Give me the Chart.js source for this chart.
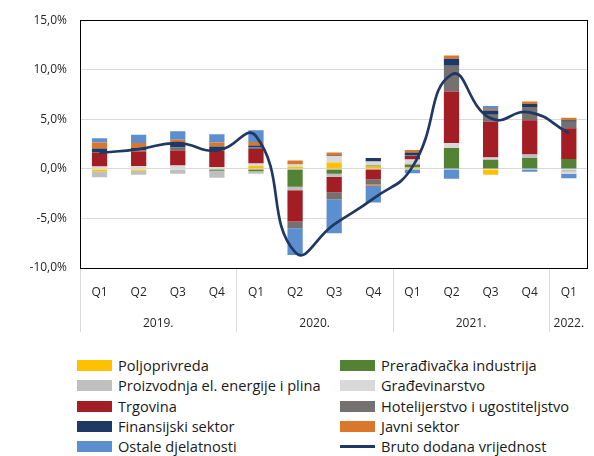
<!DOCTYPE html>
<html>
<head>
<meta charset="utf-8">
<script src="https://cdn.jsdelivr.net/npm/chart.js@4"></script>
<style>
  body { margin: 0; background: #fff; font-family: "Open Sans", sans-serif; }
  #wrap { position: relative; width: 594px; height: 456px; }
  #chartBox { position: absolute; left: 0; top: 0; width: 594px; height: 342px; }
  #legend { position: absolute; left: 0; top: 355px; width: 594px; font-size: 14.6px; color: #1a1a1a; }
  .item { position: absolute; height: 20px; line-height: 20px; white-space: nowrap; }
  .box { position: absolute; left: 0; top: 5px; width: 35px; height: 11px; }
  .ln { position: absolute; left: 0; top: 9px; width: 35px; height: 3px; }
  .txt { position: absolute; left: 41px; top: 0; }
</style>
</head>
<body>
<div id="wrap">
  <div id="chartBox"><canvas id="myChart"></canvas></div>
  <div id="legend"></div>
</div>
<script>
// kvartali i godine
var kvartali = ['Q1','Q2','Q3','Q4','Q1','Q2','Q3','Q4','Q1','Q2','Q3','Q4','Q1'];
var godine = ['2019.', '2020.', '2021.', '2022.'];
var godineBroj = [4, 4, 4, 1]; // koliko kvartala po godini

// doprinosi (postotni poeni)
var poljoprivreda = [-0.25, -0.2, 0, 0, 0.3, 0.2, 0.65, 0.25, 0.15, 0, -0.6, 0, 0];
var preradjivacka = [0, 0, 0, -0.2, -0.25, -1.8, -0.5, 0.1, 0.3, 2.1, 0.9, 1.1, 1.0];
var proizvodnja = [-0.6, -0.4, -0.5, -0.7, -0.25, -0.35, -0.3, 0, 0.1, 0, 0.15, 0.35, -0.3];
var gradjevinarstvo = [0.25, 0.3, 0.35, 0.2, 0.25, 0.25, 0.65, 0.4, 0.4, 0.5, 0.1, 0, -0.2];
var trgovina = [1.35, 1.45, 1.5, 1.6, 1.45, -3.15, -1.55, -1.05, 0.35, 5.2, 3.6, 3.45, 3.1];
var hotelijerstvo = [0.1, 0.1, 0.3, 0.05, 0.15, -0.7, -0.75, -0.5, 0.05, 2.6, 0.7, 1.35, 0.65];
var finansijski = [0.35, 0.25, 0.5, 0.4, 0.2, 0, 0.05, 0.35, 0.3, 0.7, 0.45, 0.3, 0.15];
var javni = [0.6, 0.5, 0.3, 0.4, 0.35, 0.4, 0.3, -0.15, 0.25, 0.35, 0.15, 0.25, 0.25];
var ostale = [0.45, 0.85, 0.85, 0.85, 1.2, -2.7, -3.4, -1.7, -0.45, -1.0, 0.3, -0.3, -0.45];
var bdv = [1.6, 2.0, 2.6, 1.85, 3.3, -8.4, -5.6, -3.0, 0.2, 9.5, 5.1, 5.7, 3.6];

var serije = [
  ['Poljoprivreda', poljoprivreda, '#FFC000'],
  ['Prerađivačka industrija', preradjivacka, '#548235'],
  ['Proizvodnja el. energije i plina', proizvodnja, '#BFBFBF'],
  ['Građevinarstvo', gradjevinarstvo, '#D9D9D9'],
  ['Trgovina', trgovina, '#A31D24'],
  ['Hotelijerstvo i ugostiteljstvo', hotelijerstvo, '#767171'],
  ['Finansijski sektor', finansijski, '#1F3864'],
  ['Javni sektor', javni, '#D9782A'],
  ['Ostale djelatnosti', ostale, '#5B8FCF']
];

var datasets = serije.map(function (s) {
  return {
    type: 'bar', label: s[0], data: s[1], backgroundColor: s[2],
    stack: 'a', order: 1, categoryPercentage: 1, barPercentage: 0.39
  };
});
datasets.push({
  type: 'line', label: 'Bruto dodana vrijednost', data: bdv, stack: 'bdv', order: 0,
  borderColor: '#1F3864', borderWidth: 2.7, pointRadius: 0, tension: 0.5, fill: false
});

// okvir oko grafikona, godine i separatori
var okvir = {
  id: 'okvir',
  afterDraw: function (chart) {
    var c = chart.ctx, a = chart.chartArea;
    c.save();
    c.strokeStyle = '#000';
    c.lineWidth = 1;
    c.strokeRect(Math.round(a.left) + 0.5, Math.round(a.top) + 0.5, Math.round(a.right - a.left) - 1, Math.round(a.bottom - a.top));
    var step = (a.right - a.left) / kvartali.length;
    c.strokeStyle = '#D9D9D9';
    c.fillStyle = '#262626';
    c.font = '12px "Open Sans"';
    c.textAlign = 'center';
    c.textBaseline = 'middle';
    var idx = 0;
    for (var i = 0; i < godine.length; i++) {
      var x0 = a.left + idx * step;
      c.beginPath();
      c.moveTo(Math.round(x0) + 0.5, a.bottom + 1);
      c.lineTo(Math.round(x0) + 0.5, a.bottom + 64);
      c.stroke();
      var x1 = a.left + (idx + godineBroj[i]) * step;
      c.fillText(godine[i], (x0 + x1) / 2, a.bottom + 56);
      idx += godineBroj[i];
    }
    c.restore();
  }
};

var ctx = document.getElementById('myChart').getContext('2d');
var myChart = new Chart(ctx, {
  data: { labels: kvartali, datasets: datasets },
  plugins: [okvir],
  options: {
    responsive: true,
    maintainAspectRatio: false,
    animation: false,
    layout: { padding: { top: 16, right: 2, left: 0, bottom: 0 } },
    plugins: { legend: { display: false }, tooltip: { enabled: false } },
    scales: {
      x: {
        stacked: true,
        grid: { display: false, drawTicks: false },
        border: { display: false },
        ticks: { color: '#262626', font: { family: 'Open Sans', size: 12 }, padding: 17, maxRotation: 0 },
        afterFit: function (s) { s.height = 74; }
      },
      y: {
        stacked: true,
        min: -10, max: 15,
        grid: { color: '#D9D9D9', drawTicks: false },
        border: { display: false },
        ticks: {
          stepSize: 5, padding: 13, color: '#262626',
          font: { family: 'Open Sans', size: 12 },
          callback: function (v) { return v.toFixed(1).replace('.', ',') + '%'; }
        },
        afterFit: function (s) { s.width = 80; }
      }
    }
  }
});

// legenda u dva stupca
var legendaRed = [
  [serije[0], serije[1]],
  [serije[2], serije[3]],
  [serije[4], serije[5]],
  [serije[6], serije[7]],
  [serije[8], null]
];
var leg = document.getElementById('legend');
var html = '';
legendaRed.forEach(function (r, i) {
  var top = i * 20.3;
  html += '<div class="item" style="left:77px;top:' + top + 'px"><div class="box" style="background:' + r[0][2] + '"></div><div class="txt">' + r[0][0] + '</div></div>';
  if (r[1]) {
    html += '<div class="item" style="left:340px;top:' + top + 'px"><div class="box" style="background:' + r[1][2] + '"></div><div class="txt">' + r[1][0] + '</div></div>';
  } else {
    html += '<div class="item" style="left:340px;top:' + top + 'px"><div class="ln" style="background:#1F3864"></div><div class="txt">Bruto dodana vrijednost</div></div>';
  }
});
leg.innerHTML = html;
</script>
</body>
</html>
